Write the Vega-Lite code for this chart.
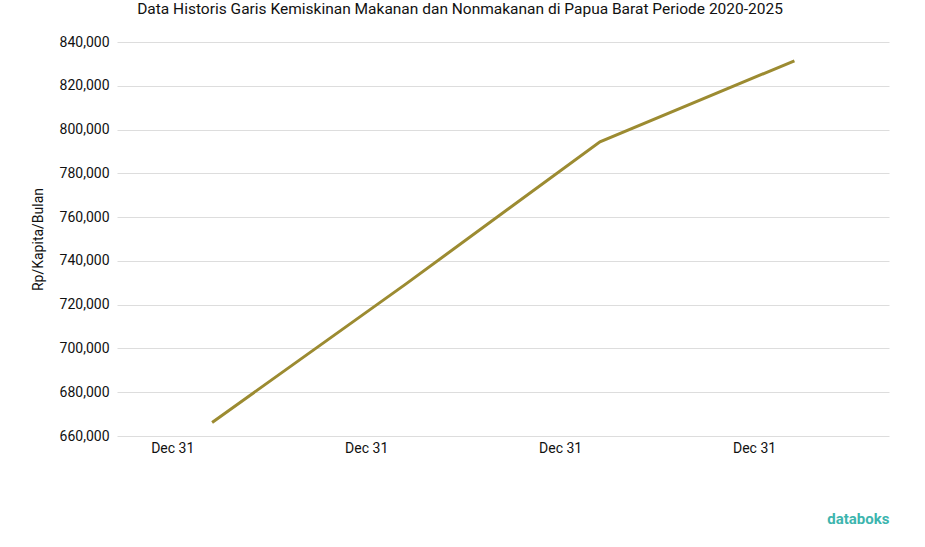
{
  "$schema": "https://vega.github.io/schema/vega-lite/v6.json",
  "width": 772,
  "height": 394,
  "autosize": {"type": "none"},
  "padding": {"left": 117, "top": 42, "right": 36, "bottom": 111},
  "background": "white",
  "title": {
    "text": "Data Historis Garis Kemiskinan Makanan dan Nonmakanan di Papua Barat Periode 2020-2025",
    "frame": "bounds",
    "anchor": "middle",
    "font": "Roboto",
    "fontSize": 15.5,
    "fontWeight": "normal",
    "color": "#111",
    "offset": 18
  },
  "config": {
    "view": {"stroke": null},
    "font": "Roboto"
  },
  "data": {
    "values": [
      {"periode": "2021-03-16", "nilai": 666200},
      {"periode": "2022-03-16", "nilai": 729500},
      {"periode": "2023-03-16", "nilai": 794400},
      {"periode": "2024-03-16", "nilai": 831400}
    ]
  },
  "mark": {"type": "line", "color": "#9c8b31", "strokeWidth": 3},
  "encoding": {
    "x": {
      "field": "periode",
      "type": "temporal",
      "scale": {
        "type": "utc",
        "domain": [
          {"year": 2020, "month": 9, "date": 18, "utc": true},
          {"year": 2024, "month": 9, "date": 10, "utc": true}
        ]
      },
      "axis": {
        "values": [
          {"year": 2020, "month": 12, "date": 31, "utc": true},
          {"year": 2021, "month": 12, "date": 31, "utc": true},
          {"year": 2022, "month": 12, "date": 31, "utc": true},
          {"year": 2023, "month": 12, "date": 31, "utc": true}
        ],
        "labelExpr": "utcFormat(datum.value, '%b %d')",
        "grid": false,
        "domain": false,
        "ticks": false,
        "labelFont": "Roboto",
        "labelFontSize": 14,
        "labelColor": "#111",
        "labelPadding": 5,
        "labelAngle": 0,
        "title": "databoks",
        "titleFont": "Roboto",
        "titleFontSize": 15,
        "titleFontWeight": "bold",
        "titleColor": "#3db5ae",
        "titleAnchor": "end",
        "titlePadding": 56
      }
    },
    "y": {
      "field": "nilai",
      "type": "quantitative",
      "scale": {"domain": [660000, 840000], "nice": false, "zero": false},
      "axis": {
        "values": [660000, 680000, 700000, 720000, 740000, 760000, 780000, 800000, 820000, 840000],
        "format": ",.0f",
        "grid": true,
        "gridColor": "#dddddd",
        "gridWidth": 1,
        "domain": false,
        "ticks": false,
        "labelFont": "Roboto",
        "labelFontSize": 14,
        "labelColor": "#111",
        "labelPadding": 8,
        "title": "Rp/Kapita/Bulan",
        "titleFont": "Roboto",
        "titleFontSize": 14,
        "titleFontWeight": "normal",
        "titleColor": "#111",
        "titlePadding": 14
      }
    }
  }
}
